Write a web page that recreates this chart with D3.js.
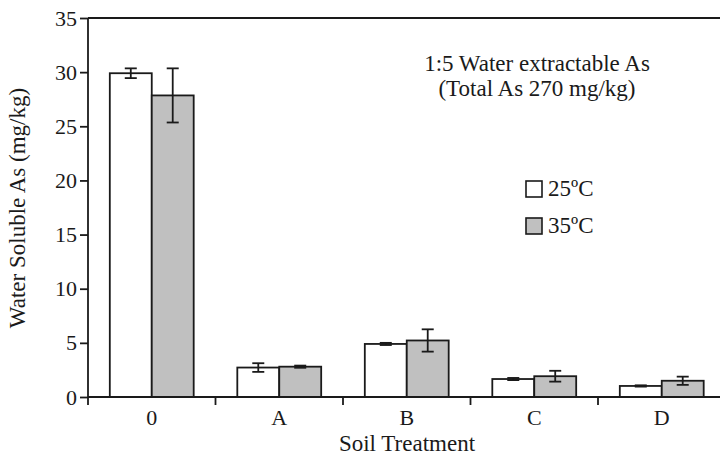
<!DOCTYPE html>
<html>
<head>
<meta charset="utf-8">
<script src="https://cdn.jsdelivr.net/npm/d3@7"></script>
<style>
	body { margin: 0; background: #fff; }
	svg { display: block; }
	text { font-family: "Liberation Serif", "Times New Roman", serif; fill: #1a1a1a; }
</style>
</head>
<body>
<div class="chart"><svg></svg></div>
<script>
(function() {

	// DATA
	var categories = ['0', 'A', 'B', 'C', 'D'];
	var series = ['25ºC', '35ºC'];
	var means25 = [29.9, 2.72, 4.9, 1.66, 1.02];
	var errs25 = [0.45, 0.4, 0.1, 0.1, 0.06];
	var means35 = [27.85, 2.8, 5.22, 1.92, 1.5];
	var errs35 = [2.5, 0.1, 1.03, 0.5, 0.38];
	var yTicks = [0, 5, 10, 15, 20, 25, 30, 35];

	var fills = { '25ºC': '#ffffff', '35ºC': '#c0c0c0' };
	var ink = '#1a1a1a';

	var svg_width = 720, svg_height = 459;
	var margin = { top: 18, left: 88, bottom: 62 };
	var step = 127.5;

	var svg = d3.select('svg')
		.attr('width', svg_width)
		.attr('height', svg_height);

	// SCALES
	var x = d3.scaleBand()
		.domain(categories)
		.range([margin.left, margin.left + step * categories.length])
		.padding(0);

	var xs = d3.scaleBand()
		.domain(series)
		.range([0, x.bandwidth()])
		.paddingInner(0)
		.paddingOuter(0.52);

	var y = d3.scaleLinear()
		.domain([0, 35])
		.range([svg_height - margin.bottom, margin.top]);

	var rows = [];
	categories.forEach(function(c, i) {
		rows.push({ cat: c, key: series[0], v: means25[i], e: errs25[i] });
		rows.push({ cat: c, key: series[1], v: means35[i], e: errs35[i] });
	});

	// BARS
	svg.append('g').selectAll('rect')
		.data(rows)
		.enter().append('rect')
		.attr('x', function(d) { return x(d.cat) + xs(d.key); })
		.attr('y', function(d) { return y(d.v); })
		.attr('width', xs.bandwidth())
		.attr('height', function(d) { return y(0) - y(d.v); })
		.attr('fill', function(d) { return fills[d.key]; })
		.attr('stroke', ink)
		.attr('stroke-width', 1.8);

	// ERROR BARS
	var eb = svg.append('g').attr('stroke', ink).attr('stroke-width', 1.8);
	rows.forEach(function(d) {
		var cx = x(d.cat) + xs(d.key) + xs.bandwidth() / 2;
		eb.append('line')
			.attr('x1', cx).attr('x2', cx)
			.attr('y1', y(d.v + d.e)).attr('y2', y(d.v - d.e));
		[d.v + d.e, d.v - d.e].forEach(function(v) {
			eb.append('line')
				.attr('x1', cx - 6).attr('x2', cx + 6)
				.attr('y1', y(v)).attr('y2', y(v));
		});
	});

	// AXES
	var yaxis = svg.append('g')
		.attr('transform', 'translate(' + margin.left + ',0)')
		.call(d3.axisLeft(y).tickValues(yTicks).tickSize(8).tickPadding(3));
	yaxis.selectAll('.domain').remove();
	yaxis.selectAll('line').attr('stroke', ink).attr('stroke-width', 1.8);
	yaxis.selectAll('text').style('font-size', '22px').attr('fill', ink);

	var axisG = svg.append('g').attr('stroke', ink).attr('stroke-width', 1.8);
	axisG.append('line')
		.attr('x1', margin.left).attr('x2', margin.left)
		.attr('y1', y(35)).attr('y2', y(0) + 8);
	axisG.append('line')
		.attr('x1', margin.left).attr('x2', x.range()[1])
		.attr('y1', y(0)).attr('y2', y(0));
	axisG.append('line')
		.attr('x1', margin.left).attr('x2', x.range()[1])
		.attr('y1', y(35)).attr('y2', y(35));
	categories.forEach(function(c) {
		var bx = x(c) + x.bandwidth();
		axisG.append('line')
			.attr('x1', bx).attr('x2', bx)
			.attr('y1', y(0)).attr('y2', y(0) + 8);
	});

	var xaxis = svg.append('g')
		.attr('transform', 'translate(0,' + y(0) + ')')
		.call(d3.axisBottom(x).tickSize(0).tickPadding(12));
	xaxis.selectAll('.domain').remove();
	xaxis.selectAll('text').style('font-size', '22px').attr('fill', ink);

	// LABELS
	svg.append('text')
		.attr('x', 407).attr('y', 451)
		.attr('text-anchor', 'middle')
		.style('font-size', '23px')
		.text('Soil Treatment');

	svg.append('text')
		.attr('transform', 'translate(25,208) rotate(-90)')
		.attr('text-anchor', 'middle')
		.style('font-size', '23px')
		.text('Water Soluble As (mg/kg)');

	svg.append('text')
		.attr('x', 537).attr('y', 71)
		.attr('text-anchor', 'middle')
		.style('font-size', '23px')
		.text('1:5 Water extractable As');
	svg.append('text')
		.attr('x', 537).attr('y', 96)
		.attr('text-anchor', 'middle')
		.style('font-size', '23px')
		.text('(Total As 270 mg/kg)');

	// LEGEND
	var legend = svg.append('g').selectAll('g')
		.data(series)
		.enter().append('g')
		.attr('transform', function(d, i) { return 'translate(526,' + (181 + i * 37) + ')'; });
	legend.append('rect')
		.attr('width', 16).attr('height', 16)
		.attr('fill', function(d) { return fills[d]; })
		.attr('stroke', ink).attr('stroke-width', 1.6);
	legend.append('text')
		.attr('x', 22).attr('y', 15)
		.style('font-size', '23px')
		.text(function(d) { return d; });

})();
</script>
</body>
</html>
